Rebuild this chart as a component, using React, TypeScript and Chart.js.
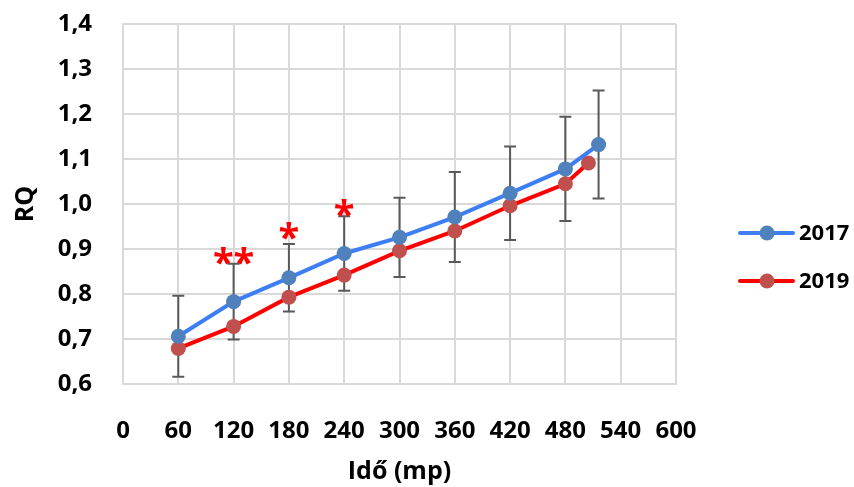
import React, { useEffect, useRef } from "react";
import { Chart, registerables } from "chart.js";

Chart.register(...registerables);

// ---- Data ----
const time2017 = [60, 120, 180, 240, 300, 360, 420, 480, 516];
const rq2017 = [0.706, 0.783, 0.836, 0.890, 0.926, 0.971, 1.024, 1.078, 1.132];
const sd2017 = [0.090, 0.084, 0.075, 0.083, 0.088, 0.100, 0.104, 0.116, 0.120];

const time2019 = [60, 120, 180, 240, 300, 360, 420, 480, 505];
const rq2019 = [0.679, 0.728, 0.793, 0.842, 0.896, 0.940, 0.996, 1.045, 1.091];

const seriesLabels = ["2017", "2019"];

const sigTimes = [120, 180, 240];
const sigMarks = ["**", "*", "*"];
const sigLevels = [0.885, 0.940, 0.991];

const xTicks = [0, 60, 120, 180, 240, 300, 360, 420, 480, 540, 600];
const yMin = 0.6;
const yMax = 1.4;

const FONT = "'Open Sans', 'Liberation Sans', sans-serif";
const LINE_COLORS = ["#3d7ef5", "#ff0000"];
const MARKER_COLORS = ["#4f81bd", "#c0504d"];

const errorBarPlugin = {
  id: "errorBars",
  beforeDatasetsDraw(chart: any) {
    const { ctx } = chart;
    const xs = chart.scales.x;
    const ys = chart.scales.y;
    ctx.save();
    ctx.strokeStyle = "#595959";
    ctx.lineWidth = 2;
    for (let i = 0; i < time2017.length; i++) {
      const px = xs.getPixelForValue(time2017[i]);
      const top = ys.getPixelForValue(rq2017[i] + sd2017[i]);
      const bot = ys.getPixelForValue(rq2017[i] - sd2017[i]);
      ctx.beginPath();
      ctx.moveTo(px, top);
      ctx.lineTo(px, bot);
      ctx.moveTo(px - 6, top);
      ctx.lineTo(px + 6, top);
      ctx.moveTo(px - 6, bot);
      ctx.lineTo(px + 6, bot);
      ctx.stroke();
    }
    ctx.restore();
  },
};

const sigPlugin = {
  id: "sigMarks",
  afterDatasetsDraw(chart: any) {
    const { ctx } = chart;
    const xs = chart.scales.x;
    const ys = chart.scales.y;
    ctx.save();
    ctx.fillStyle = "#ff0000";
    ctx.font = `700 38px ${FONT}`;
    ctx.textAlign = "center";
    ctx.textBaseline = "alphabetic";
    for (let i = 0; i < sigTimes.length; i++) {
      const px = xs.getPixelForValue(sigTimes[i]);
      const py = ys.getPixelForValue(sigLevels[i]);
      const m = ctx.measureText(sigMarks[i]);
      const off = (m.actualBoundingBoxAscent - m.actualBoundingBoxDescent) / 2;
      ctx.fillText(sigMarks[i], px, py + off);
    }
    ctx.restore();
  },
};

const legendPlugin = {
  id: "customLegend",
  afterDraw(chart: any) {
    const { ctx, chartArea } = chart;
    const x0 = chartArea.right + 64;
    const yStart = 233;
    const gap = 48;
    ctx.save();
    seriesLabels.forEach((lab, i) => {
      const y = yStart + i * gap;
      ctx.strokeStyle = LINE_COLORS[i];
      ctx.lineWidth = 4;
      ctx.lineCap = "round";
      ctx.beginPath();
      ctx.moveTo(x0, y);
      ctx.lineTo(x0 + 53, y);
      ctx.stroke();
      ctx.fillStyle = MARKER_COLORS[i];
      ctx.beginPath();
      ctx.arc(x0 + 27, y, 7.5, 0, Math.PI * 2);
      ctx.fill();
      ctx.fillStyle = "#000";
      ctx.font = `700 22px ${FONT}`;
      ctx.textAlign = "left";
      ctx.textBaseline = "middle";
      ctx.fillText(lab, x0 + 59, y + 1);
    });
    ctx.restore();
  },
};

export default function App() {
  const canvasRef = useRef<HTMLCanvasElement | null>(null);

  useEffect(() => {
    if (!canvasRef.current) return;
    const chart = new Chart(canvasRef.current, {
      type: "line",
      data: {
        datasets: [
          {
            label: seriesLabels[0],
            data: time2017.map((t, i) => ({ x: t, y: rq2017[i] })),
            borderColor: LINE_COLORS[0],
            backgroundColor: MARKER_COLORS[0],
            pointBackgroundColor: MARKER_COLORS[0],
            pointBorderWidth: 0,
            pointRadius: 7.5,
            borderWidth: 4,
            tension: 0,
          },
          {
            label: seriesLabels[1],
            data: time2019.map((t, i) => ({ x: t, y: rq2019[i] })),
            borderColor: LINE_COLORS[1],
            backgroundColor: MARKER_COLORS[1],
            pointBackgroundColor: MARKER_COLORS[1],
            pointBorderWidth: 0,
            pointRadius: 7.5,
            borderWidth: 4,
            tension: 0,
          },
        ],
      },
      options: {
        responsive: false,
        animation: false,
        events: [],
        layout: { padding: { top: 24, right: 178, left: 0, bottom: 0 } },
        plugins: {
          legend: { display: false },
          tooltip: { enabled: false },
        },
        scales: {
          x: {
            type: "linear",
            min: 0,
            max: 600,
            afterBuildTicks: (scale: any) => {
              scale.ticks = xTicks.map((v) => ({ value: v }));
            },
            afterFit: (scale: any) => {
              scale.height = 103;
            },
            grid: { color: "#d9d9d9", lineWidth: 2, drawTicks: true, tickLength: 31, tickColor: "rgba(0,0,0,0)" },
            border: { color: "#d9d9d9", width: 2 },
            ticks: {
              padding: 2,
              color: "#000",
              font: { family: FONT, weight: "700", size: 24 },
              maxRotation: 0,
              autoSkip: false,
            },
            title: {
              display: true,
              text: "Idő (mp)",
              color: "#000",
              font: { family: FONT, weight: "700", size: 25 },
              padding: { top: 0, bottom: 0 },
            },
          },
          y: {
            min: yMin,
            max: yMax,
            afterFit: (scale: any) => {
              scale.width = 123;
            },
            grid: { color: "#d9d9d9", lineWidth: 2, drawTicks: true, tickLength: 29, tickColor: "rgba(0,0,0,0)" },
            border: { color: "#d9d9d9", width: 2 },
            ticks: {
              stepSize: 0.1,
              padding: 2,
              color: "#000",
              font: { family: FONT, weight: "700", size: 24 },
              callback: (v: any) => Number(v).toFixed(1).replace(".", ","),
            },
            title: {
              display: true,
              text: "RQ",
              color: "#000",
              font: { family: FONT, weight: "700", size: 25 },
              padding: { top: 11, bottom: 0 },
            },
          },
        },
      },
      plugins: [errorBarPlugin, sigPlugin, legendPlugin],
    } as any);
    return () => chart.destroy();
  }, []);

  return (
    <div style={{ position: "absolute", left: 0, top: 0, width: 854, height: 487, background: "#fff" }}>
      <canvas ref={canvasRef} width={854} height={487} />
    </div>
  );
}
